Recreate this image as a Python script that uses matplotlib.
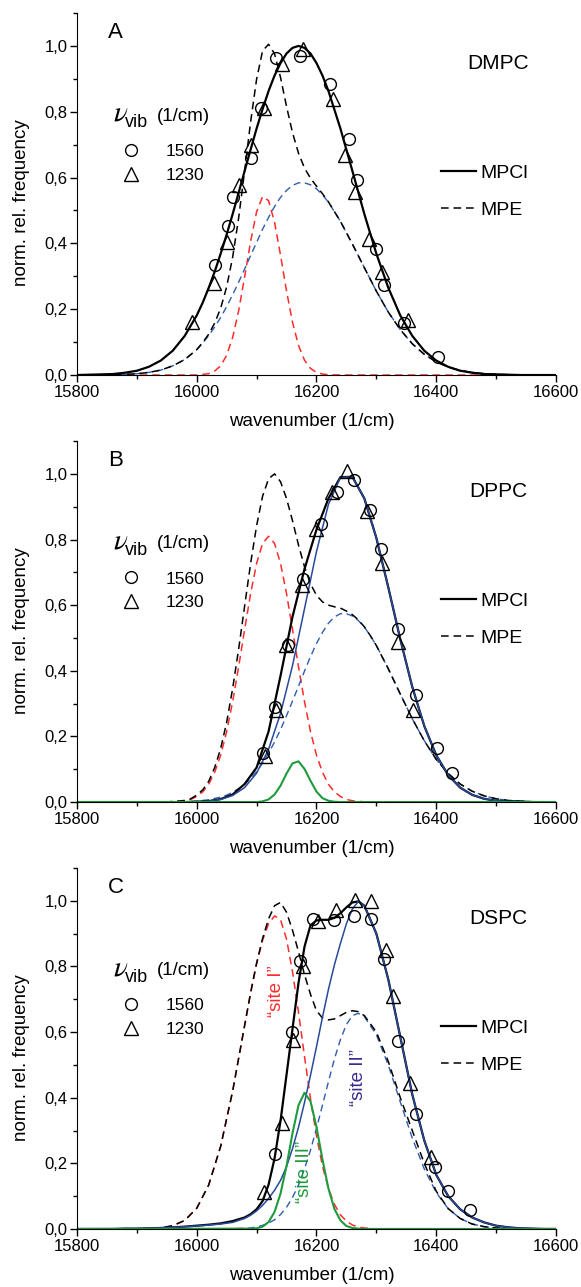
import matplotlib.pyplot as plt
from matplotlib.ticker import MultipleLocator, FuncFormatter

plt.rcParams['font.family'] = ['Liberation Sans', 'DejaVu Sans']

# ---------------------------------------------------------------
# values read off the figure (fit curves sampled along wavenumber)
# ---------------------------------------------------------------
vib_labels = ["1560", "1230"]
line_labels = ["MPCl", "MPE"]

# ---- panel A : DMPC ----
wn_a = [15800, 15820, 15840, 15860, 15880, 15900, 15920, 15940, 15960, 15980,
        16000, 16010, 16020, 16030, 16040, 16050, 16060, 16070, 16080, 16090,
        16100, 16110, 16120, 16130, 16140, 16150, 16160, 16170, 16180, 16190,
        16200, 16210, 16220,
        16240, 16260, 16280, 16300, 16320, 16340, 16360, 16380, 16400, 16420,
        16440, 16460, 16480, 16500, 16520, 16540, 16560, 16580, 16600]
mpcl_a = [0.000, 0.001, 0.002, 0.003, 0.007, 0.013, 0.025, 0.044, 0.074, 0.119,
          0.181, 0.220, 0.265, 0.314, 0.369, 0.427, 0.489, 0.554, 0.620, 0.685,
          0.749, 0.808, 0.863, 0.910, 0.948, 0.977, 0.994, 1.000, 0.994, 0.977,
          0.948, 0.910, 0.863,
          0.749, 0.620, 0.489, 0.369, 0.265, 0.181, 0.119, 0.074, 0.044, 0.025,
          0.013, 0.007, 0.003, 0.002, 0.001, 0.000, 0.000, 0.000, 0.000]
mpe_a = [0.000, 0.000, 0.000, 0.001, 0.002, 0.004, 0.008, 0.015, 0.028, 0.047,
         0.077, 0.099, 0.124, 0.158, 0.203, 0.268, 0.358, 0.477, 0.620, 0.769,
         0.899, 0.985, 1.005, 0.976, 0.904, 0.816, 0.736, 0.674, 0.629, 0.598,
         0.574, 0.551, 0.526,
         0.467, 0.398, 0.326, 0.255, 0.191, 0.138, 0.095, 0.063, 0.040, 0.024,
         0.014, 0.008, 0.004, 0.002, 0.001, 0.000, 0.000, 0.000, 0.000]
site1_a = [0.000, 0.000, 0.000, 0.000, 0.000, 0.000, 0.000, 0.000, 0.000, 0.000,
           0.000, 0.002, 0.004, 0.012, 0.028, 0.060, 0.114, 0.195, 0.298, 0.406,
           0.496, 0.542, 0.530, 0.464, 0.364, 0.255, 0.160, 0.090, 0.045, 0.020,
           0.008, 0.003, 0.001,
           0.000, 0.000, 0.000, 0.000, 0.000, 0.000, 0.000, 0.000, 0.000, 0.000,
           0.000, 0.000, 0.000, 0.000, 0.000, 0.000, 0.000, 0.000, 0.000]
site2_a = [0.000, 0.000, 0.000, 0.001, 0.002, 0.004, 0.008, 0.015, 0.028, 0.047,
           0.077, 0.097, 0.120, 0.146, 0.175, 0.208, 0.244, 0.282, 0.322, 0.363,
           0.403, 0.443, 0.479, 0.512, 0.540, 0.561, 0.576, 0.584, 0.584, 0.578,
           0.566, 0.548, 0.525,
           0.467, 0.398, 0.326, 0.255, 0.191, 0.138, 0.095, 0.063, 0.040, 0.024,
           0.014, 0.008, 0.004, 0.002, 0.001, 0.000, 0.000, 0.000, 0.000]
x1560_a = [16031, 16052, 16060, 16090, 16108, 16133, 16172, 16223, 16254, 16268,
           16299, 16312, 16346, 16403]
y1560_a = [0.333, 0.454, 0.541, 0.658, 0.812, 0.962, 0.970, 0.883, 0.716, 0.594,
           0.383, 0.274, 0.157, 0.056]
x1230_a = [15992, 16029, 16050, 16071, 16091, 16113, 16142, 16178, 16227, 16247,
           16264, 16287, 16310, 16353]
y1230_a = [0.162, 0.279, 0.403, 0.577, 0.700, 0.812, 0.946, 0.992, 0.840, 0.670,
           0.555, 0.413, 0.312, 0.168]

# ---- panel B : DPPC ----
wn_b = [15800, 15900, 15920, 15940,
        15950, 15960, 15970, 15980, 15990, 16000, 16010, 16020, 16030, 16040,
        16050, 16060, 16070, 16080, 16090, 16100, 16110, 16120, 16130, 16140,
        16150, 16160, 16170, 16180, 16190, 16200, 16210, 16220, 16230, 16240,
        16250, 16260, 16270, 16280, 16290, 16300,
        16320, 16340, 16360, 16380, 16400, 16420, 16440, 16460, 16480, 16500,
        16520, 16540, 16560, 16580, 16600]
mpe_b = [0.000, 0.000, 0.000, 0.000,
         0.000, 0.002, 0.003, 0.005, 0.010, 0.021, 0.037, 0.063, 0.105, 0.163,
         0.243, 0.346, 0.466, 0.597, 0.727, 0.842, 0.932, 0.985, 1.000, 0.976,
         0.925, 0.857, 0.783, 0.717, 0.665, 0.630, 0.610, 0.600, 0.595, 0.591,
         0.582, 0.571, 0.555, 0.534, 0.507, 0.477,
         0.406, 0.329, 0.254, 0.187, 0.130, 0.087, 0.055, 0.033, 0.019, 0.010,
         0.005, 0.003, 0.001, 0.001, 0.000]
site1_b = [0.000, 0.000, 0.000, 0.000,
           0.000, 0.001, 0.002, 0.004, 0.008, 0.017, 0.031, 0.054, 0.091, 0.143,
           0.215, 0.306, 0.412, 0.526, 0.635, 0.727, 0.788, 0.810, 0.788, 0.727,
           0.635, 0.526, 0.412, 0.306, 0.215, 0.143, 0.091, 0.054, 0.031, 0.017,
           0.008, 0.004, 0.002, 0.001, 0.000, 0.000,
           0.000, 0.000, 0.000, 0.000, 0.000, 0.000, 0.000, 0.000, 0.000, 0.000,
           0.000, 0.000, 0.000, 0.000, 0.000]
site2_b = [0.000, 0.000, 0.000, 0.000,
           0.000, 0.001, 0.001, 0.001, 0.002, 0.003, 0.005, 0.007, 0.011, 0.015,
           0.021, 0.030, 0.041, 0.054, 0.072, 0.093, 0.119, 0.149, 0.183, 0.221,
           0.263, 0.308, 0.353, 0.399, 0.443, 0.483, 0.517, 0.545, 0.564, 0.574,
           0.574, 0.567, 0.553, 0.533, 0.507, 0.477,
           0.406, 0.329, 0.254, 0.187, 0.130, 0.087, 0.055, 0.033, 0.019, 0.010,
           0.005, 0.003, 0.001, 0.001, 0.000]
wn_b2 = [15800, 15820, 15840, 15860, 15880, 15900, 15920, 15940, 15960, 15980,
         16000, 16020, 16040, 16060, 16080, 16100, 16120, 16140, 16160, 16180,
         16200, 16220, 16240, 16260, 16280, 16300, 16320, 16340, 16360, 16380,
         16400, 16420, 16440, 16460, 16480, 16500, 16520, 16540, 16560, 16580,
         16600]
mpcl_b = [0.000, 0.000, 0.000, 0.000, 0.000, 0.000, 0.000, 0.000, 0.000, 0.000,
          0.001, 0.003, 0.009, 0.023, 0.055, 0.105, 0.215, 0.385, 0.565, 0.710,
          0.830, 0.925, 0.990, 0.991, 0.925, 0.805, 0.654, 0.496, 0.351, 0.232,
          0.143, 0.082, 0.044, 0.022, 0.010, 0.004, 0.002, 0.001, 0.000, 0.000,
          0.000]
fit2_b = [0.000, 0.000, 0.000, 0.000, 0.000, 0.000, 0.000, 0.000, 0.000, 0.000,
          0.001, 0.003, 0.008, 0.020, 0.044, 0.088, 0.161, 0.270, 0.416, 0.589,
          0.763, 0.907, 0.989, 0.991, 0.925, 0.805, 0.654, 0.496, 0.351, 0.232,
          0.143, 0.082, 0.044, 0.022, 0.010, 0.004, 0.002, 0.001, 0.000, 0.000,
          0.000]
wn_gb = [15800, 16100, 16110, 16120, 16130, 16140, 16150, 16160, 16170, 16180,
         16190, 16200, 16210, 16220, 16230, 16240, 16600]
site3_b = [0.000, 0.000, 0.002, 0.008, 0.023, 0.050, 0.087, 0.118, 0.124, 0.101,
           0.065, 0.032, 0.012, 0.004, 0.001, 0.000, 0.000]
x1560_b = [16111, 16130, 16152, 16178, 16207, 16234, 16262, 16289, 16307, 16336,
           16367, 16401, 16426]
y1560_b = [0.149, 0.289, 0.478, 0.681, 0.848, 0.946, 0.980, 0.891, 0.772, 0.526,
           0.326, 0.164, 0.090]
x1230_b = [16114, 16132, 16149, 16175, 16199, 16226, 16251, 16285, 16310, 16336,
           16362]
y1230_b = [0.139, 0.280, 0.478, 0.660, 0.833, 0.944, 1.010, 0.887, 0.728, 0.488,
           0.281]

# ---- panel C : DSPC ----
wn_c = [15800, 15820, 15840, 15860, 15880, 15900, 15920, 15940, 15960, 15980,
        16000, 16020, 16040, 16060,
        16080, 16090, 16100, 16110, 16120, 16130, 16140, 16150, 16160, 16170,
        16180, 16190, 16200, 16210, 16220, 16230, 16240, 16250, 16260, 16270,
        16280,
        16300, 16320, 16340, 16360, 16380, 16400, 16420, 16440, 16460, 16480,
        16500, 16520, 16540, 16560, 16580, 16600]
mpcl_c = [0.000, 0.000, 0.000, 0.000, 0.001, 0.001, 0.002, 0.003, 0.005, 0.007,
          0.010, 0.013, 0.017, 0.024,
          0.035, 0.045, 0.060, 0.085, 0.135, 0.215, 0.330, 0.470, 0.610, 0.750,
          0.860, 0.925, 0.940, 0.942, 0.942, 0.948, 0.962, 0.980, 0.995, 0.998,
          0.985,
          0.900, 0.760, 0.585, 0.410, 0.270, 0.165, 0.100, 0.060, 0.035, 0.020,
          0.010, 0.005, 0.002, 0.001, 0.000, 0.000]
fit2_c = [0.000, 0.000, 0.000, 0.000, 0.001, 0.001, 0.002, 0.003, 0.005, 0.007,
          0.009, 0.012, 0.015, 0.020,
          0.032, 0.042, 0.055, 0.072, 0.093, 0.118, 0.148, 0.190, 0.245, 0.310,
          0.385, 0.468, 0.555, 0.645, 0.730, 0.805, 0.870, 0.930, 0.975, 0.998,
          0.985,
          0.900, 0.760, 0.585, 0.410, 0.270, 0.165, 0.100, 0.060, 0.035, 0.020,
          0.010, 0.005, 0.002, 0.001, 0.000, 0.000]
mpe_c = [0.000, 0.000, 0.000, 0.000, 0.000, 0.000, 0.001, 0.003, 0.010, 0.026,
         0.063, 0.134, 0.252, 0.420,
         0.620, 0.720, 0.810, 0.885, 0.945, 0.985, 0.995, 0.965, 0.910, 0.845,
         0.775, 0.715, 0.665, 0.643, 0.637, 0.640, 0.650, 0.660, 0.665, 0.662,
         0.650,
         0.600, 0.510, 0.400, 0.300, 0.200, 0.115, 0.062, 0.032, 0.015, 0.007,
         0.003, 0.001, 0.000, 0.000, 0.000, 0.000]
site1_c = [0.000, 0.000, 0.000, 0.000, 0.000, 0.000, 0.001, 0.003, 0.010, 0.026,
           0.063, 0.134, 0.252, 0.420,
           0.620, 0.719, 0.808, 0.880, 0.930, 0.954, 0.942, 0.883, 0.784, 0.660,
           0.526, 0.397, 0.284, 0.192, 0.123, 0.075, 0.043, 0.024, 0.012, 0.006,
           0.003,
           0.000, 0.000, 0.000, 0.000, 0.000, 0.000, 0.000, 0.000, 0.000, 0.000,
           0.000, 0.000, 0.000, 0.000, 0.000, 0.000]
site2_c = [0.000, 0.000, 0.000, 0.000, 0.000, 0.000, 0.000, 0.000, 0.000, 0.000,
           0.000, 0.000, 0.000, 0.001,
           0.002, 0.003, 0.006, 0.011, 0.018, 0.028, 0.044, 0.066, 0.096, 0.134,
           0.183, 0.240, 0.306, 0.377, 0.449, 0.518, 0.577, 0.623, 0.650, 0.657,
           0.647,
           0.592, 0.499, 0.387, 0.277, 0.183, 0.111, 0.062, 0.032, 0.015, 0.007,
           0.003, 0.001, 0.000, 0.000, 0.000, 0.000]
wn_gc = [15800, 16090, 16100, 16110, 16120, 16130, 16140, 16150, 16160, 16170,
         16180, 16190, 16200, 16210, 16220, 16230, 16240, 16250, 16260, 16270,
         16280, 16600]
site3_c = [0.000, 0.001, 0.002, 0.007, 0.021, 0.052, 0.108, 0.192, 0.292, 0.377,
           0.415, 0.389, 0.311, 0.212, 0.123, 0.061, 0.026, 0.009, 0.003, 0.001,
           0.000, 0.000]
x1560_c = [16131, 16159, 16172, 16195, 16229, 16263, 16291, 16313, 16336, 16366,
           16398, 16420, 16457]
y1560_c = [0.228, 0.599, 0.815, 0.945, 0.942, 0.954, 0.945, 0.823, 0.574, 0.351,
           0.189, 0.115, 0.059]
x1230_c = [16113, 16142, 16161, 16178, 16203, 16232, 16265, 16291, 16316, 16328,
           16356, 16392]
y1230_c = [0.113, 0.323, 0.577, 0.800, 0.937, 0.973, 1.003, 0.998, 0.851, 0.709,
           0.445, 0.218]

RED = '#ff2b2b'
BLUE_D = '#2f5db0'
BLUE = '#284a9c'
GREEN = '#1f9a3c'
DASH = (5, 3.2)


def comma(v, pos):
    return f"{v:.1f}".replace(".", ",")


def setup(ax, letter, lipid):
    ax.set_xlim(15800, 16600)
    ax.set_ylim(0, 1.1)
    ax.spines['top'].set_visible(False)
    ax.spines['right'].set_visible(False)
    ax.xaxis.set_major_locator(MultipleLocator(200))
    ax.xaxis.set_minor_locator(MultipleLocator(100))
    ax.yaxis.set_major_locator(MultipleLocator(0.2))
    ax.yaxis.set_minor_locator(MultipleLocator(0.1))
    ax.yaxis.set_major_formatter(FuncFormatter(comma))
    ax.tick_params(which='major', direction='out', length=5, width=1, labelsize=12, pad=2)
    ax.tick_params(which='minor', direction='out', length=3, width=1)
    ax.set_xlabel('wavenumber (1/cm)', fontsize=13.5)
    ax.set_ylabel('norm. rel. frequency', fontsize=13.5)
    ax.xaxis.set_label_coords(0.49, -0.105)
    ax.yaxis.set_label_coords(-0.098, 0.475)
    ax.text(0.064, 0.945, letter, transform=ax.transAxes, fontsize=16, va='center')
    ax.text(0.88, 0.86, lipid, transform=ax.transAxes, fontsize=15, ha='center', va='center')
    # nu_vib header of the marker legend
    ax.text(0.075, 0.724, r'$\nu$', transform=ax.transAxes, fontsize=21,
            va='center', math_fontfamily='stix')
    ax.text(0.101, 0.697, 'vib', transform=ax.transAxes, fontsize=13, va='center')
    ax.text(0.167, 0.715, '(1/cm)', transform=ax.transAxes, fontsize=13.5, va='center')


def add_points(ax, x1, y1, x2, y2):
    c = ax.plot(x1, y1, ls='none', marker='o', ms=8.5, mfc='none', mec='black',
                mew=1.0, zorder=5)[0]
    t = ax.plot(x2, y2, ls='none', marker='^', ms=9.5, mfc='none', mec='black',
                mew=1.0, zorder=5)[0]
    leg = ax.legend([c, t], vib_labels, loc='center left', bbox_to_anchor=(0.095, 0.585),
                    frameon=False, fontsize=12.5, handlelength=1.0, handletextpad=1.5,
                    labelspacing=0.5, borderpad=0, borderaxespad=0, numpoints=1)
    ax.add_artist(leg)


def add_line_legend(ax, solid, dashed):
    ax.legend([solid, dashed], line_labels, loc='center left', bbox_to_anchor=(0.76, 0.506),
              frameon=False, fontsize=14, handlelength=1.8, handletextpad=0.25,
              labelspacing=1.0, borderpad=0, borderaxespad=0)


fig = plt.figure(figsize=(5.81, 12.87), dpi=100)
ax_a = fig.add_axes([0.1325, 0.7086, 0.8244, 0.2813])
ax_b = fig.add_axes([0.1325, 0.3768, 0.8244, 0.2805])
ax_c = fig.add_axes([0.1325, 0.0451, 0.8244, 0.2805])

# ---- A ----
setup(ax_a, 'A', 'DMPC')
ax_a.plot(wn_a, site1_a, color=RED, lw=1.1, dashes=DASH)
ax_a.plot(wn_a, site2_a, color=BLUE_D, lw=1.0, dashes=DASH)
mpe_line = ax_a.plot(wn_a, mpe_a, color='black', lw=1.1, dashes=DASH)[0]
mpcl_line = ax_a.plot(wn_a, mpcl_a, color='black', lw=1.6)[0]
add_points(ax_a, x1560_a, y1560_a, x1230_a, y1230_a)
add_line_legend(ax_a, mpcl_line, mpe_line)

# ---- B ----
setup(ax_b, 'B', 'DPPC')
ax_b.plot(wn_b, site1_b, color=RED, lw=1.1, dashes=DASH)
ax_b.plot(wn_b, site2_b, color=BLUE_D, lw=1.0, dashes=DASH)
mpe_line = ax_b.plot(wn_b, mpe_b, color='black', lw=1.1, dashes=DASH)[0]
mpcl_line = ax_b.plot(wn_b2, mpcl_b, color='black', lw=1.6)[0]
ax_b.plot(wn_b2, fit2_b, color=BLUE, lw=1.1)
ax_b.plot(wn_gb, site3_b, color=GREEN, lw=1.5)
add_points(ax_b, x1560_b, y1560_b, x1230_b, y1230_b)
add_line_legend(ax_b, mpcl_line, mpe_line)

# ---- C ----
setup(ax_c, 'C', 'DSPC')
ax_c.plot(wn_c, site1_c, color=RED, lw=1.1, dashes=DASH)
ax_c.plot(wn_c, site2_c, color=BLUE_D, lw=1.0, dashes=DASH)
mpe_line = ax_c.plot(wn_c, mpe_c, color='black', lw=1.1, dashes=DASH)[0]
mpcl_line = ax_c.plot(wn_c, mpcl_c, color='black', lw=1.6)[0]
ax_c.plot(wn_c, fit2_c, color=BLUE, lw=1.1)
ax_c.plot(wn_gc, site3_c, color=GREEN, lw=1.5)
add_points(ax_c, x1560_c, y1560_c, x1230_c, y1230_c)
add_line_legend(ax_c, mpcl_line, mpe_line)

ax_c.text(16133, 0.725, '\u201csite I\u201d', color=RED, rotation=90, fontsize=13.5,
          ha='center', va='center')
ax_c.text(16270, 0.462, '\u201csite II\u201d', color='#3a2a90', rotation=90, fontsize=13.5,
          ha='center', va='center')
ax_c.text(16180, 0.175, '\u201csite III\u201d', color=GREEN, rotation=90, fontsize=13.5,
          ha='center', va='center')

fig.savefig('out.png', dpi=100)
